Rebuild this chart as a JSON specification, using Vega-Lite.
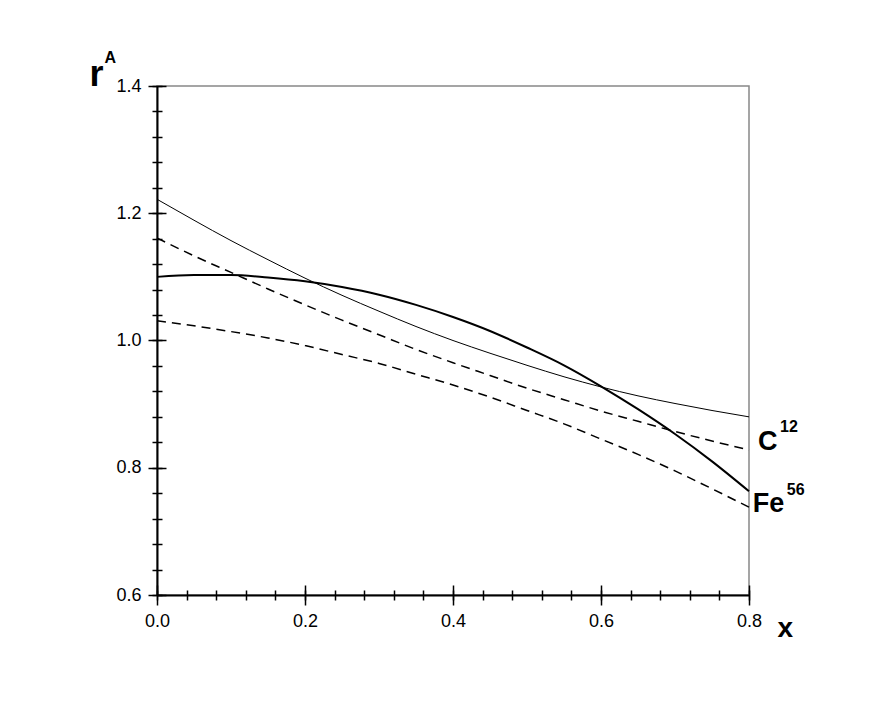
{
"$schema": "https://vega.github.io/schema/vega-lite/v6.json",
"width": 592,
"height": 509,
"autosize": {"type": "none"},
"padding": {"left": 157, "top": 86, "right": 123, "bottom": 113},
"background": "white",
"config": {
  "view": {"stroke": "#888888", "strokeWidth": 1.5},
  "font": "Liberation Sans",
  "axis": {"labelFont": "Liberation Sans", "labelFontSize": 18, "labelColor": "black", "tickColor": "black", "domainColor": "black", "grid": false, "titleColor": "black", "titleFont": "Liberation Sans", "labelFlush": false}
},
"datasets": {
  "curves": [
    {"n":"C12","m":"a","x":0,"r":1.222},{"n":"C12","m":"a","x":0.05,"r":1.189},{"n":"C12","m":"a","x":0.1,"r":1.157},{"n":"C12","m":"a","x":0.15,"r":1.127},{"n":"C12","m":"a","x":0.2,"r":1.098},{"n":"C12","m":"a","x":0.25,"r":1.071},{"n":"C12","m":"a","x":0.3,"r":1.046},{"n":"C12","m":"a","x":0.35,"r":1.022},{"n":"C12","m":"a","x":0.4,"r":1.0},{"n":"C12","m":"a","x":0.45,"r":0.98},{"n":"C12","m":"a","x":0.5,"r":0.961},{"n":"C12","m":"a","x":0.55,"r":0.943},{"n":"C12","m":"a","x":0.6,"r":0.927},{"n":"C12","m":"a","x":0.65,"r":0.913},{"n":"C12","m":"a","x":0.7,"r":0.901},{"n":"C12","m":"a","x":0.75,"r":0.89},{"n":"C12","m":"a","x":0.8,"r":0.88},
    {"n":"Fe56","m":"a","x":0,"r":1.1},{"n":"Fe56","m":"a","x":0.05,"r":1.103},{"n":"Fe56","m":"a","x":0.1,"r":1.103},{"n":"Fe56","m":"a","x":0.15,"r":1.099},{"n":"Fe56","m":"a","x":0.2,"r":1.093},{"n":"Fe56","m":"a","x":0.25,"r":1.084},{"n":"Fe56","m":"a","x":0.3,"r":1.072},{"n":"Fe56","m":"a","x":0.35,"r":1.056},{"n":"Fe56","m":"a","x":0.4,"r":1.037},{"n":"Fe56","m":"a","x":0.45,"r":1.015},{"n":"Fe56","m":"a","x":0.5,"r":0.989},{"n":"Fe56","m":"a","x":0.55,"r":0.961},{"n":"Fe56","m":"a","x":0.6,"r":0.928},{"n":"Fe56","m":"a","x":0.65,"r":0.892},{"n":"Fe56","m":"a","x":0.7,"r":0.853},{"n":"Fe56","m":"a","x":0.75,"r":0.81},{"n":"Fe56","m":"a","x":0.8,"r":0.763},
    {"n":"C12","m":"b","x":0,"r":1.161},{"n":"C12","m":"b","x":0.05,"r":1.133},{"n":"C12","m":"b","x":0.1,"r":1.107},{"n":"C12","m":"b","x":0.15,"r":1.081},{"n":"C12","m":"b","x":0.2,"r":1.056},{"n":"C12","m":"b","x":0.25,"r":1.032},{"n":"C12","m":"b","x":0.3,"r":1.009},{"n":"C12","m":"b","x":0.35,"r":0.986},{"n":"C12","m":"b","x":0.4,"r":0.965},{"n":"C12","m":"b","x":0.45,"r":0.945},{"n":"C12","m":"b","x":0.5,"r":0.925},{"n":"C12","m":"b","x":0.55,"r":0.907},{"n":"C12","m":"b","x":0.6,"r":0.889},{"n":"C12","m":"b","x":0.65,"r":0.873},{"n":"C12","m":"b","x":0.7,"r":0.857},{"n":"C12","m":"b","x":0.75,"r":0.842},{"n":"C12","m":"b","x":0.8,"r":0.828},
    {"n":"Fe56","m":"b","x":0,"r":1.031},{"n":"Fe56","m":"b","x":0.05,"r":1.023},{"n":"Fe56","m":"b","x":0.1,"r":1.014},{"n":"Fe56","m":"b","x":0.15,"r":1.004},{"n":"Fe56","m":"b","x":0.2,"r":0.992},{"n":"Fe56","m":"b","x":0.25,"r":0.978},{"n":"Fe56","m":"b","x":0.3,"r":0.964},{"n":"Fe56","m":"b","x":0.35,"r":0.947},{"n":"Fe56","m":"b","x":0.4,"r":0.93},{"n":"Fe56","m":"b","x":0.45,"r":0.911},{"n":"Fe56","m":"b","x":0.5,"r":0.89},{"n":"Fe56","m":"b","x":0.55,"r":0.869},{"n":"Fe56","m":"b","x":0.6,"r":0.845},{"n":"Fe56","m":"b","x":0.65,"r":0.821},{"n":"Fe56","m":"b","x":0.7,"r":0.795},{"n":"Fe56","m":"b","x":0.75,"r":0.767},{"n":"Fe56","m":"b","x":0.8,"r":0.738}
  ]
},
"resolve": {"axis": {"x": "independent", "y": "independent"}},
"layer": [
  {
    "data": {"name": "curves"},
    "transform": [{"filter": "datum.n === 'C12' && datum.m === 'a'"}],
    "mark": {"type": "line", "color": "black", "strokeWidth": 1, "interpolate": "monotone"},
    "encoding": {
      "x": {"field": "x", "type": "quantitative", "scale": {"domain": [0, 0.8], "nice": false, "zero": false},
        "axis": {"orient": "bottom", "values": [0, 0.2, 0.4, 0.6, 0.8], "format": ".1f", "domain": false, "offset": -10, "tickSize": 20, "tickWidth": 1.5, "labelPadding": 7, "labelFontSize": 18, "labelFlush": false, "labelFont": "Liberation Sans", "title": null}},
      "y": {"field": "r", "type": "quantitative", "scale": {"domain": [0.6, 1.4], "nice": false, "zero": false},
        "axis": {"orient": "left", "values": [0.6, 0.8, 1.0, 1.2, 1.4], "format": ".1f", "domain": false, "offset": -9, "tickSize": 18, "tickWidth": 1.5, "labelPadding": 7, "labelFontSize": 18, "labelFont": "Liberation Sans", "title": null}}
    }
  },
  {
    "data": {"name": "curves"},
    "transform": [{"filter": "datum.n === 'Fe56' && datum.m === 'a'"}],
    "mark": {"type": "line", "color": "black", "strokeWidth": 2, "interpolate": "monotone"},
    "encoding": {
      "x": {"field": "x", "type": "quantitative", "scale": {"domain": [0, 0.8], "nice": false, "zero": false},
        "axis": {"orient": "bottom", "values": [0, 0.04, 0.08, 0.12, 0.16, 0.2, 0.24, 0.28, 0.32, 0.36, 0.4, 0.44, 0.48, 0.52, 0.56, 0.6, 0.64, 0.68, 0.72, 0.76, 0.8], "labels": false, "domain": false, "offset": -5, "tickSize": 10, "tickWidth": 1.5, "title": null}},
      "y": {"field": "r", "type": "quantitative", "scale": {"domain": [0.6, 1.4], "nice": false, "zero": false},
        "axis": {"orient": "left", "values": [0.6, 0.64, 0.68, 0.72, 0.76, 0.8, 0.84, 0.88, 0.92, 0.96, 1.0, 1.04, 1.08, 1.12, 1.16, 1.2, 1.24, 1.28, 1.32, 1.36, 1.4], "labels": false, "domain": false, "offset": -5, "tickSize": 10, "tickWidth": 1.5,
          "title": "A", "titleAngle": 0, "titleFontSize": 16, "titleFontWeight": "bold", "titleAlign": "left", "titleBaseline": "alphabetic", "titleX": -58, "titleY": -24}}
    }
  },
  {
    "data": {"name": "curves"},
    "transform": [{"filter": "datum.m === 'b'"}],
    "mark": {"type": "line", "color": "black", "strokeWidth": 1.5, "strokeDash": [9, 6], "interpolate": "monotone"},
    "encoding": {
      "detail": {"field": "n", "type": "nominal"},
      "x": {"field": "x", "type": "quantitative", "scale": {"domain": [0, 0.8], "nice": false, "zero": false},
        "axis": {"orient": "bottom", "ticks": false, "labels": false, "domain": true, "domainWidth": 2, "offset": 0,
          "title": "x", "titleFontSize": 28, "titleFontWeight": "bold", "titleAlign": "left", "titleBaseline": "alphabetic", "titleX": 620, "titleY": 41}},
      "y": {"field": "r", "type": "quantitative", "scale": {"domain": [0.6, 1.4], "nice": false, "zero": false},
        "axis": {"orient": "left", "ticks": false, "labels": false, "domain": true, "domainWidth": 2, "offset": 0,
          "title": "r", "titleAngle": 0, "titleFontSize": 36, "titleFontWeight": "bold", "titleAlign": "left", "titleBaseline": "alphabetic", "titleX": -68, "titleY": -1}}
    }
  },
  {
    "mark": {"type": "rule", "color": "black", "strokeWidth": 1, "strokeDash": [1, 2]},
    "encoding": {
      "y": {"datum": 1.0, "type": "quantitative", "scale": {"domain": [0.6, 1.4], "nice": false, "zero": false}, "axis": null}
    }
  },
  {
    "data": {"values": [{"t": "C", "x": 0.812, "y": 0.828}, {"t": "Fe", "x": 0.805, "y": 0.73}]},
    "mark": {"type": "text", "font": "Liberation Sans", "fontWeight": "bold", "fontSize": 27, "align": "left", "baseline": "alphabetic", "color": "black"},
    "encoding": {
      "text": {"field": "t"},
      "x": {"field": "x", "type": "quantitative", "scale": {"domain": [0, 0.8], "nice": false, "zero": false}, "axis": null},
      "y": {"field": "y", "type": "quantitative", "scale": {"domain": [0.6, 1.4], "nice": false, "zero": false}, "axis": null}
    }
  },
  {
    "data": {"values": [{"t": "12", "x": 0.842, "y": 0.856}, {"t": "56", "x": 0.851, "y": 0.757}]},
    "mark": {"type": "text", "font": "Liberation Sans", "fontWeight": "bold", "fontSize": 16, "align": "left", "baseline": "alphabetic", "color": "black"},
    "encoding": {
      "text": {"field": "t"},
      "x": {"field": "x", "type": "quantitative", "scale": {"domain": [0, 0.8], "nice": false, "zero": false}, "axis": null},
      "y": {"field": "y", "type": "quantitative", "scale": {"domain": [0.6, 1.4], "nice": false, "zero": false}, "axis": null}
    }
  }
]
}
